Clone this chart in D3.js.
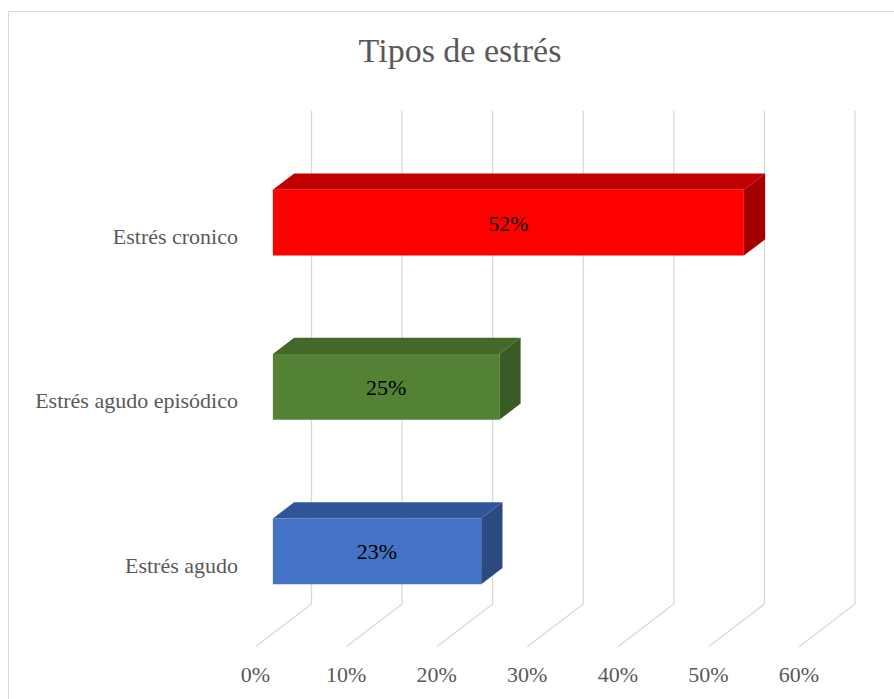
<!DOCTYPE html>
<html>
<head>
<meta charset="utf-8">
<script src="https://d3js.org/d3.v7.min.js"></script>
<style>
	body { margin: 0; background: #fff; }
	text { font-family: "Liberation Serif", "Times New Roman", serif; }
</style>
</head>
<body>
<div id="chart"></div>
<script>

// chart data
var categories = ['Estrés cronico', 'Estrés agudo episódico', 'Estrés agudo'];
var values = [0.52, 0.25, 0.23];
var tick_values = [0, 0.1, 0.2, 0.3, 0.4, 0.5, 0.6];
var title = 'Tipos de estrés';

// colours for each bar: front, top, side
var fronts = ['#ff0000', '#548235', '#4472c4'];
var tops = ['#c00000', '#43682a', '#30569a'];
var sides = ['#a40000', '#385a23', '#2b4a80'];

const width = 894
const height = 699

var svg = d3.select('#chart').append('svg')
	.attr('width', width)
	.attr('height', height);

// outer chart border
svg.append('rect')
	.attr('x', 8.5).attr('y', 11.5)
	.attr('width', 900).attr('height', 700)
	.attr('fill', 'none')
	.attr('stroke', '#d9d9d9');

svg.append('text')
	.attr('x', 460).attr('y', 62)
	.attr('text-anchor', 'middle')
	.attr('font-size', 34)
	.attr('fill', '#595959')
	.text(title);

// back wall scales
var x = d3.scaleLinear().domain([0, 0.6]).range([311.5, 855]);
var y = d3.scaleBand().domain(categories).range([111, 604])
	.paddingInner(0.6).paddingOuter(0.3);

// oblique depth: d=0 back wall, d=1 front edge of floor
var depth = { dx: -56, dy: 42.7 };
var d_back = 0.31, d_front = 0.69;

function proj(v, yy, d) {
	return [x(v) + d * depth.dx, yy + d * depth.dy];
}
function poly(pts) {
	return pts.map(function(p){ return p.join(','); }).join(' ');
}

// gridlines: back wall verticals plus floor diagonals
var grid = svg.append('g').attr('id', 'grid');
grid.selectAll('polyline').data(tick_values).enter().append('polyline')
	.attr('points', function(t){
		return poly([proj(t, 111, 0), proj(t, 604, 0), proj(t, 604, 1)]);
	})
	.attr('fill', 'none')
	.attr('stroke', '#d9d9d9')
	.attr('stroke-width', 1.3);

// value axis labels along the floor front
svg.append('g').attr('id', 'xlabels')
	.selectAll('text').data(tick_values).enter().append('text')
	.attr('x', function(t){ return proj(t, 604, 1)[0]; })
	.attr('y', 681.5)
	.attr('text-anchor', 'middle')
	.attr('font-size', 22)
	.attr('fill', '#595959')
	.text(d3.format('.0%'));

// category labels on the front plane
svg.append('g').attr('id', 'ylabels')
	.selectAll('text').data(categories).enter().append('text')
	.attr('x', 238)
	.attr('y', function(c){ return y(c) + y.bandwidth() / 2 + depth.dy + 8; })
	.attr('text-anchor', 'end')
	.attr('font-size', 22)
	.attr('fill', '#595959')
	.text(function(c){ return c; });

// 3d bars
var bars = svg.append('g').attr('id', 'bars')
	.selectAll('g').data(categories).enter().append('g');

bars.append('polygon')
	.attr('points', function(c, i){
		var t = y(c);
		return poly([proj(0, t, d_front), proj(values[i], t, d_front),
			proj(values[i], t, d_back), proj(0, t, d_back)]);
	})
	.attr('fill', function(c, i){ return tops[i]; });

bars.append('polygon')
	.attr('points', function(c, i){
		var t = y(c), b = y(c) + y.bandwidth();
		return poly([proj(values[i], t, d_front), proj(values[i], t, d_back),
			proj(values[i], b, d_back), proj(values[i], b, d_front)]);
	})
	.attr('fill', function(c, i){ return sides[i]; });

bars.append('polygon')
	.attr('points', function(c, i){
		var t = y(c), b = y(c) + y.bandwidth();
		return poly([proj(0, t, d_front), proj(values[i], t, d_front),
			proj(values[i], b, d_front), proj(0, b, d_front)]);
	})
	.attr('fill', function(c, i){ return fronts[i]; });

// data labels centred on the front face
bars.append('text')
	.attr('x', function(c, i){ return (proj(0, 0, d_front)[0] + proj(values[i], 0, d_front)[0]) / 2; })
	.attr('y', function(c){ return y(c) + y.bandwidth() / 2 + d_front * depth.dy + 8; })
	.attr('text-anchor', 'middle')
	.attr('font-size', 22)
	.attr('fill', '#000')
	.text(function(c, i){ return d3.format('.0%')(values[i]); });

</script>
</body>
</html>
